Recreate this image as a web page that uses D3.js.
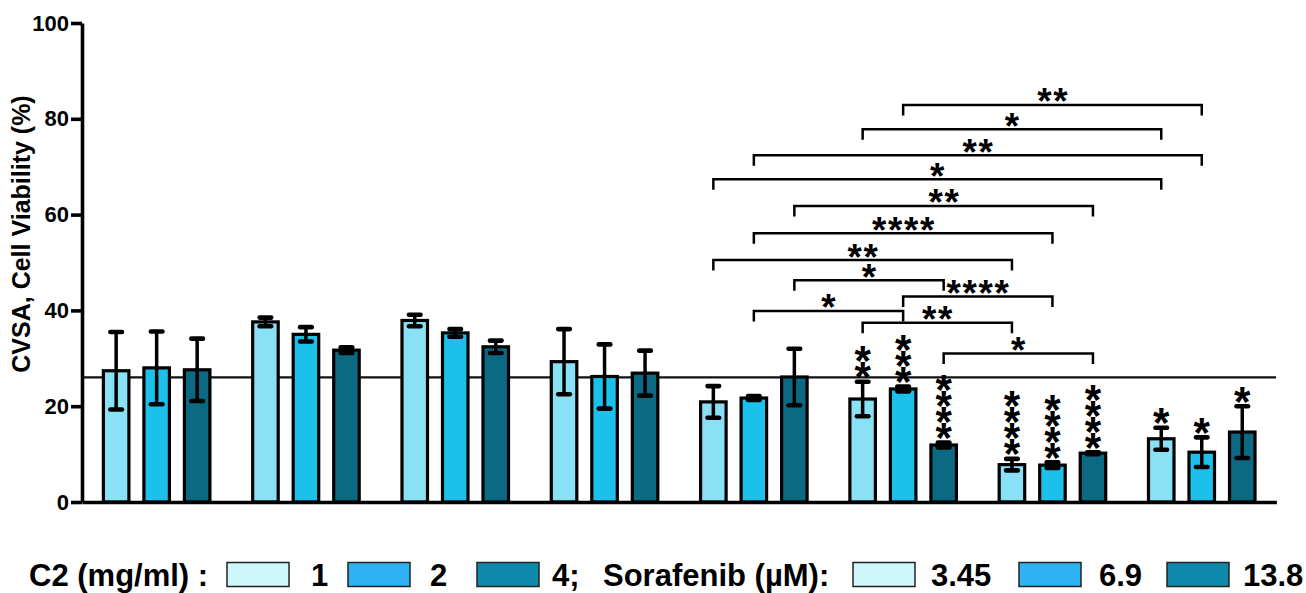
<!DOCTYPE html>
<html><head><meta charset="utf-8">
<script src="https://cdn.jsdelivr.net/npm/d3@7"></script>
<style>html,body{margin:0;padding:0;background:#fff}svg{display:block}</style>
</head><body>
<svg id="chart" width="1306" height="593"></svg>
<script>
// ---------- data ----------
const groups = ["G1","G2","G3","G4","G5","G6","G7","G8"];
const doses = ["low","mid","high"];
const means = [
  [27.4, 28.0, 27.6],
  [37.6, 35.0, 31.7],
  [37.9, 35.3, 32.4],
  [29.3, 26.2, 26.9],
  [20.9, 21.7, 26.1],
  [21.5, 23.6, 11.9],
  [7.8, 7.7, 10.2],
  [13.2, 10.4, 14.6]
];
const sds = [
  [8.1, 7.6, 6.5],
  [0.9, 1.5, 0.6],
  [1.2, 0.8, 1.3],
  [6.8, 6.7, 4.7],
  [3.3, 0.4, 5.9],
  [3.6, 0.5, 0.5],
  [1.2, 0.6, 0.2],
  [2.3, 3.1, 5.4]
];
const starCounts = [
  [0,0,0],[0,0,0],[0,0,0],[0,0,0],[0,0,0],[2,3,4],[4,4,4],[1,1,1]
];
const referenceValue = 26;
const yTicks = [0,20,40,60,80,100];
const bracketFrom  = [[5,1],[5,0],[4,1],[4,0],[4,2],[4,1],[4,0],[4,2],[5,1],[4,1],[5,0],[5,2]];
const bracketTo    = [[7,1],[7,0],[7,1],[7,0],[6,2],[6,1],[6,0],[5,2],[6,1],[5,1],[6,0],[6,2]];
const bracketLevel = [82.9,77.8,72.4,67.4,61.8,56.1,50.5,46.3,42.9,39.9,37.4,31.0];
const bracketLabel = ["**","*","**","*","**","****","**","*","****","*","**","*"];
const yLabel = "CVSA, Cell Viability (%)";
const legendC2Title = "C2 (mg/ml) :";
const legendC2Labels = ["1","2","4;"];
const legendSoraTitle = "Sorafenib (µM):";
const legendSoraLabels = ["3.45","6.9","13.8"];

// ---------- style ----------
const barColors = ["#8ae0f4","#1bc1eb","#0c6983"];
const legendColors = ["#cdf6fd","#2fb2f2","#0f89a9"];
const FONT = "'Liberation Sans', Arial, sans-serif";

const svg = d3.select("#chart");
const x0 = d3.scaleBand().domain(groups).range([82, 1276.4]).padding(0);
const x1 = d3.scaleBand().domain(doses).range([0, x0.bandwidth()]).paddingInner(0.37).paddingOuter(0.528);
const y = d3.scaleLinear().domain([0,100]).range([502, 23]);
const cx = (g,b) => x0(groups[g]) + x1(doses[b]) + x1.bandwidth()/2;

// star glyph metrics
function starMetrics(font){
  const c = document.createElement("canvas").getContext("2d");
  c.font = font;
  const m = c.measureText("*");
  return {asc:m.actualBoundingBoxAscent, desc:m.actualBoundingBoxDescent,
          L:m.actualBoundingBoxLeft, R:m.actualBoundingBoxRight};
}
const STAR_FAMILY = "'Liberation Sans'";
const m100 = starMetrics("bold 100px " + STAR_FAMILY);
const h100 = m100.asc + m100.desc;
function starFont(inkH){
  const s = inkH / h100 * 100;
  const k = s/100;
  return {size:s, asc:m100.asc*k, desc:m100.desc*k, L:m100.L*k, R:m100.R*k};
}
const stackStar = starFont(16);
const brStar = starFont(14);

// reference line (behind bars)
svg.append("line")
  .attr("x1", 82).attr("x2", 1276)
  .attr("y1", y(referenceValue)).attr("y2", y(referenceValue))
  .attr("stroke", "#111").attr("stroke-width", 2.2);

// bars
const flat = [];
means.forEach((row,g)=>row.forEach((v,b)=>flat.push({g,b,v,sd:sds[g][b],n:starCounts[g][b]})));

svg.append("g").selectAll("rect").data(flat).join("rect")
  .attr("x", d => cx(d.g,d.b) - x1.bandwidth()/2)
  .attr("y", d => y(d.v))
  .attr("width", x1.bandwidth())
  .attr("height", d => y(0) - y(d.v))
  .attr("fill", d => barColors[d.b])
  .attr("stroke", "#000").attr("stroke-width", 3.2);

// error bars
const eb = svg.append("g").attr("stroke","#000");
eb.selectAll("line.v").data(flat).join("line").attr("class","v")
  .attr("x1", d=>cx(d.g,d.b)).attr("x2", d=>cx(d.g,d.b))
  .attr("y1", d=>y(d.v+d.sd)).attr("y2", d=>y(d.v-d.sd))
  .attr("stroke-width", 3.5);
const caps = [];
flat.forEach(d=>{caps.push({d,val:d.v+d.sd});caps.push({d,val:d.v-d.sd});});
eb.selectAll("line.c").data(caps).join("line").attr("class","c")
  .attr("x1", c=>cx(c.d.g,c.d.b)-5.8).attr("x2", c=>cx(c.d.g,c.d.b)+5.8)
  .attr("y1", c=>y(c.val)).attr("y2", c=>y(c.val))
  .attr("stroke-width", 4.6).attr("stroke-linecap","round");

// stacked significance stars
svg.append("g").selectAll("text").data(flat.filter(d=>d.n>0)).join("text")
  .attr("font-family", STAR_FAMILY).attr("font-weight","bold")
  .attr("font-size", stackStar.size)
  .attr("x", d => d3.range(d.n).map(()=> cx(d.g,d.b) - (stackStar.R - stackStar.L)/2).join(" "))
  .attr("y", d => d3.range(d.n).map(k => y(d.v+d.sd) - 3.5 - k*16 - stackStar.desc).join(" "))
  .text(d => "*".repeat(d.n));

// brackets
const br = bracketLabel.map((lab,i)=>({
  xa: cx(bracketFrom[i][0], bracketFrom[i][1]),
  xb: cx(bracketTo[i][0], bracketTo[i][1]),
  yl: y(bracketLevel[i]), lab
}));
svg.append("g").selectAll("path").data(br).join("path")
  .attr("d", d => `M${d.xa},${d.yl+10.5}V${d.yl}H${d.xb}V${d.yl+10.5}`)
  .attr("fill","none").attr("stroke","#000").attr("stroke-width",2.5);
svg.append("g").selectAll("text").data(br).join("text")
  .attr("font-family", STAR_FAMILY).attr("font-weight","bold")
  .attr("font-size", brStar.size)
  .attr("x", d => { const n=d.lab.length, mid=(d.xa+d.xb)/2;
      return d3.range(n).map(k => mid + (k-(n-1)/2)*16 - (brStar.R - brStar.L)/2).join(" "); })
  .attr("y", d => d.yl - 2 - brStar.desc)
  .text(d => d.lab);

// axes
const yAxis = svg.append("g").attr("transform","translate(82,0)")
  .call(d3.axisLeft(y).tickValues(yTicks).tickSize(11).tickSizeOuter(0).tickPadding(2));
yAxis.select(".domain").attr("stroke","#000").attr("stroke-width",3.6);
yAxis.selectAll(".tick line").attr("stroke","#000").attr("stroke-width",3.6);
yAxis.selectAll(".tick text").attr("font-family",FONT).attr("font-weight","bold")
  .attr("font-size",22).attr("fill","#000");

const xAxis = svg.append("g").attr("transform",`translate(0,${y(0)})`)
  .call(d3.axisBottom(x0).tickSize(0).tickSizeOuter(0).tickFormat(""));
xAxis.select(".domain").attr("stroke","#000").attr("stroke-width",3.6);

svg.append("text")
  .attr("transform","translate(30,234) rotate(-90)")
  .attr("text-anchor","middle")
  .attr("font-family",FONT).attr("font-weight","bold").attr("font-size",25)
  .text(yLabel);

// legend
const lg = svg.append("g").attr("font-family",FONT).attr("font-weight","bold").attr("font-size",31).attr("fill","#000");
const legBase = 586;
lg.append("text").attr("x",29).attr("y",legBase).text(legendC2Title);
lg.append("text").attr("x",603).attr("y",legBase).text(legendSoraTitle);
const c2SwX = [227,348,477], c2TxX = [311,430,552];
const soSwX = [853,1019,1167], soTxX = [931,1099,1243];
lg.selectAll("rect.c2").data(legendC2Labels).join("rect").attr("class","c2")
  .attr("x",(d,i)=>c2SwX[i]).attr("y",562.5).attr("width",62).attr("height",24)
  .attr("fill",(d,i)=>legendColors[i]).attr("stroke","#222").attr("stroke-width",1.5);
lg.selectAll("text.c2").data(legendC2Labels).join("text").attr("class","c2")
  .attr("x",(d,i)=>c2TxX[i]).attr("y",legBase).text(d=>d);
lg.selectAll("rect.so").data(legendSoraLabels).join("rect").attr("class","so")
  .attr("x",(d,i)=>soSwX[i]).attr("y",562.5).attr("width",62).attr("height",24)
  .attr("fill",(d,i)=>legendColors[i]).attr("stroke","#222").attr("stroke-width",1.5);
lg.selectAll("text.so").data(legendSoraLabels).join("text").attr("class","so")
  .attr("x",(d,i)=>soTxX[i]).attr("y",legBase).text(d=>d);
</script>
</body></html>
